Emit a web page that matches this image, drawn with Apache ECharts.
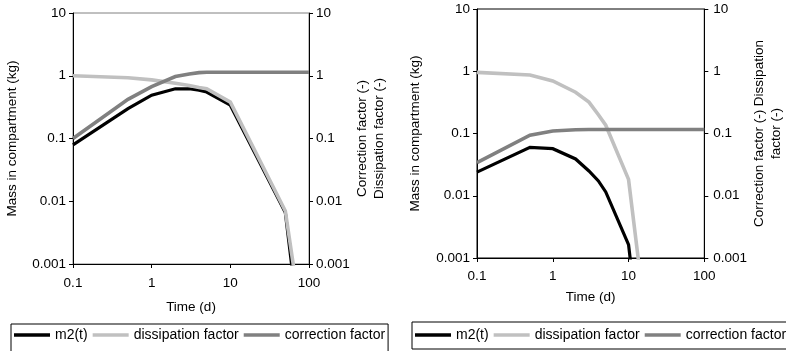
<!DOCTYPE html>
<html>
<head>
<meta charset="utf-8">
<script src="https://cdn.jsdelivr.net/npm/echarts@6/dist/echarts.min.js"></script>
<style>
  html, body { margin: 0; padding: 0; background: #fff; }
  #chart { width: 786px; height: 351px; }
</style>
</head>
<body>
<div id="chart"></div>
<script>
// Sampling times (d), shared by both panels
const times = [0.1, 0.5, 1, 2, 3, 4, 5, 10, 50, 100];

// Left panel
const m2A   = [0.079, 0.30, 0.49, 0.62, 0.62, 0.59, 0.55, 0.34, 0.0066, 0.000005];
const dissA = [1.0, 0.93, 0.86, 0.76, 0.70, 0.65, 0.62, 0.38, 0.0070, 0.00002];
const corrA = [0.10, 0.42, 0.67, 0.97, 1.07, 1.12, 1.14, 1.14, 1.14, 1.14];

// Right panel
const m2B   = [0.024, 0.060, 0.057, 0.039, 0.025, 0.0173, 0.0115, 0.00164, 1e-10, 1e-20];
const dissB = [0.96, 0.87, 0.70, 0.46, 0.32, 0.20, 0.136, 0.0183, 2e-9, 1e-18];
const corrB = [0.034, 0.094, 0.11, 0.115, 0.116, 0.116, 0.116, 0.116, 0.116, 0.116];

// Tick labels
const xTickLabels = ['0.1', '1', '10', '100'];
const yTickLabels = ['0.001', '0.01', '0.1', '1', '10'];

const seriesNames = ['m2(t)', 'dissipation factor', 'correction factor'];
const seriesColors = ['#000000', '#c0c0c0', '#808080'];
const seriesWidths = [3.2, 3.6, 3.6];

const FONT = '"Liberation Sans", Arial, sans-serif';

const pairs = (ys) => times.map((t, i) => [t, ys[i]]);
const xFmt = (v) => xTickLabels[Math.round(Math.log10(v)) + 1];
const yFmt = (v) => yTickLabels[Math.round(Math.log10(v)) + 3];

function xAxis(gridIndex, nameGap, labelMargin) {
  return {
    type: 'log', logBase: 10, gridIndex, min: 0.1, max: 100, interval: 1,
    name: 'Time (d)', nameLocation: 'middle', nameGap,
    nameTextStyle: { fontFamily: FONT, fontSize: 13.5, color: '#000' },
    axisLine: { show: true, lineStyle: { color: '#000', width: 1 } },
    axisTick: { show: true, inside: false, length: 4, lineStyle: { color: '#000' } },
    minorTick: { show: false },
    splitLine: { show: false },
    axisLabel: { formatter: xFmt, fontFamily: FONT, fontSize: 13.5, color: '#000', margin: labelMargin }
  };
}

function yAxis(gridIndex, position, name, nameGap, labelMargin) {
  return {
    type: 'log', logBase: 10, gridIndex, position, min: 0.001, max: 10, interval: 1,
    name, nameLocation: 'middle', nameGap, nameRotate: 90,
    nameTextStyle: { fontFamily: FONT, fontSize: 13.5, color: '#000', lineHeight: 17 },
    axisLine: { show: true, onZero: false, lineStyle: { color: '#000', width: 1 } },
    axisTick: { show: true, inside: false, length: 4, lineStyle: { color: '#000' } },
    minorTick: { show: false },
    splitLine: { show: false },
    axisLabel: { formatter: yFmt, fontFamily: FONT, fontSize: 13.5, color: '#000', margin: labelMargin }
  };
}

function lines(xi, yi, sets) {
  return sets.map((ys, k) => ({
    name: seriesNames[k], type: 'line', xAxisIndex: xi, yAxisIndex: yi,
    data: pairs(ys), symbol: 'none', clip: true, animation: false,
    lineStyle: { color: seriesColors[k], width: seriesWidths[k], join: 'miter' },
    itemStyle: { color: seriesColors[k] }
  }));
}

function legend(left, top, padding) {
  return {
    left, top, width: 400, orient: 'horizontal', padding,
    icon: 'rect', itemWidth: 36, itemHeight: 3.5, itemGap: 5,
    borderColor: '#000', borderWidth: 1,
    textStyle: { fontFamily: FONT, fontSize: 14, color: '#000', lineHeight: 14 },
    data: seriesNames
  };
}

const chart = echarts.init(document.getElementById('chart'), null, { renderer: 'canvas' });
chart.setOption({
  animation: false,
  backgroundColor: '#fff',
  grid: [
    { left: 73, top: 13, width: 236, height: 251, show: true, borderColor: '#808080', borderWidth: 1 },
    { left: 477, top: 9, width: 245, height: 249, show: true, borderColor: '#000', borderWidth: 1 }
  ],
  xAxis: [xAxis(0, 36, 12), xAxis(1, 32, 11)],
  yAxis: [
    yAxis(0, 'left', 'Mass in compartment (kg)', 52, 7),
    yAxis(0, 'right', 'Correction factor (-)\nDissipation factor (-)', 44, 7),
    yAxis(1, 'left', 'Mass in compartment (kg)', 53, 7),
    yAxis(1, 'right', 'Correction factor (-) Dissipation\nfactor (-)', 33, 9)
  ],
  legend: [legend(11, 324, [4, 3, 14, 3]), legend(412, 322, [6, 3, 7, 3])],
  series: [
    ...lines(0, 0, [m2A, dissA, corrA]),
    ...lines(1, 2, [m2B, dissB, corrB])
  ]
});
</script>
</body>
</html>
